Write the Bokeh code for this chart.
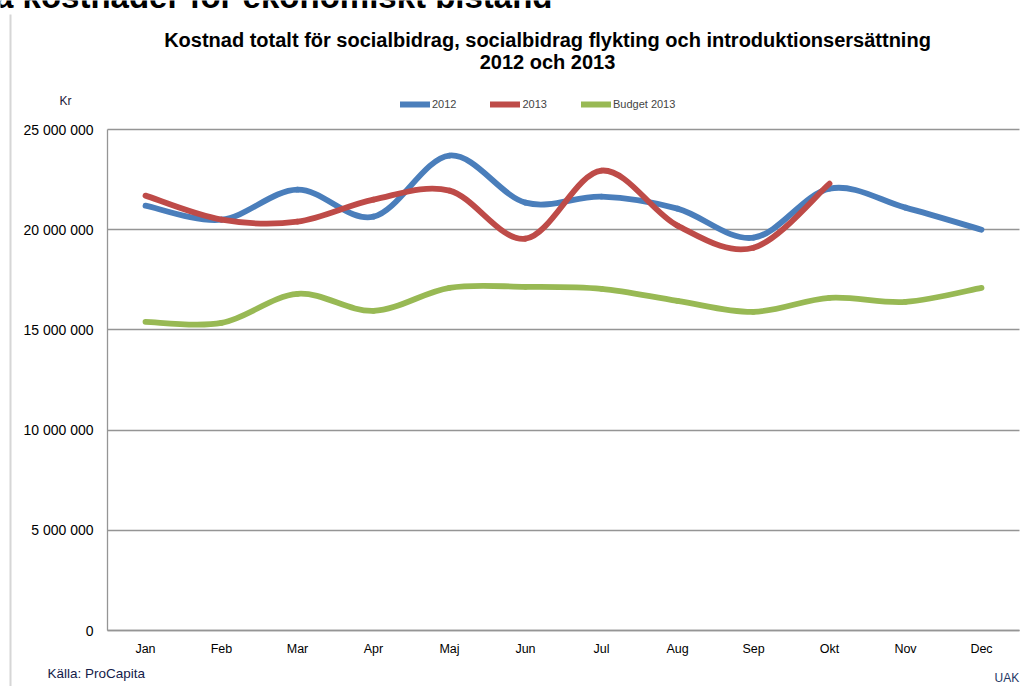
from bokeh.plotting import figure
from bokeh.models import (Range1d, FixedTicker, Label, Legend, LegendItem, ColumnDataSource,
                          BoxAnnotation)
from bokeh.embed import file_html
from bokeh.resources import INLINE

months = ["Jan", "Feb", "Mar", "Apr", "Maj", "Jun", "Jul", "Aug", "Sep", "Okt", "Nov", "Dec"]
v2012 = [21.2e6, 20.5e6, 22.0e6, 20.65e6, 23.7e6, 21.35e6, 21.65e6, 21.05e6, 19.6e6, 22.05e6, 21.1e6, 20.0e6]
v2013 = [21.7e6, 20.5e6, 20.4e6, 21.5e6, 21.95e6, 19.55e6, 22.95e6, 20.2e6, 19.1e6, 22.3e6]
budget2013 = [15.4e6, 15.35e6, 16.8e6, 15.95e6, 17.1e6, 17.15e6, 17.05e6, 16.45e6, 15.9e6, 16.6e6, 16.4e6, 17.1e6]
y_ticks = [0, 5e6, 10e6, 15e6, 20e6, 25e6]
y_tick_labels = ["0", "5 000 000", "10 000 000", "15 000 000", "20 000 000", "25 000 000"]
series_names = ["2012", "2013", "Budget 2013"]

heading = "Totala kostnader för ekonomiskt bistånd"
title_lines = ["Kostnad totalt för socialbidrag, socialbidrag flykting och introduktionsersättning",
               "2012 och 2013"]
unit_text = "Kr"
source_text = "Källa: ProCapita"
org_text = "UAK"

BLUE = "#4A7EBB"
RED = "#BE4B48"
GREEN = "#98B954"
GRID = "#959595"
FONT = "Liberation Sans"

W, H = 1020, 686
# pixel layout of the plot area on the canvas
PX_LEFT, PX_CAT = 107, 76.0          # left edge of plot area, width per month
PY_ZERO, PY_TOP = 630, 129           # pixel rows of 0 and 25 000 000
py_per_unit = (PY_ZERO - PY_TOP) / 25e6

p = figure(width=W, height=H, output_backend="svg", toolbar_location=None, title=None,
           x_range=Range1d(-PX_LEFT / PX_CAT, (W - PX_LEFT) / PX_CAT),
           y_range=Range1d(-(H - PY_ZERO) / py_per_unit, PY_ZERO / py_per_unit),
           min_border=0)
p.outline_line_color = None
p.background_fill_color = "white"
p.border_fill_color = "white"

xs = [i + 0.5 for i in range(12)]


def smooth_source(ys):
    n = len(ys)
    pts = list(zip(xs[:n], ys))
    d = dict(x0=[], y0=[], x1=[], y1=[], cx0=[], cy0=[], cx1=[], cy1=[])
    for i in range(n - 1):
        p0 = pts[i - 1] if i > 0 else pts[i]
        p1 = pts[i]
        p2 = pts[i + 1]
        p3 = pts[i + 2] if i + 2 < n else pts[i + 1]
        d["x0"].append(p1[0]); d["y0"].append(p1[1])
        d["x1"].append(p2[0]); d["y1"].append(p2[1])
        d["cx0"].append(p1[0] + (p2[0] - p0[0]) / 6); d["cy0"].append(p1[1] + (p2[1] - p0[1]) / 6)
        d["cx1"].append(p2[0] - (p3[0] - p1[0]) / 6); d["cy1"].append(p2[1] - (p3[1] - p1[1]) / 6)
    return ColumnDataSource(d)


# grid
p.xgrid.grid_line_color = None
p.ygrid.ticker = FixedTicker(ticks=y_ticks)
p.ygrid.grid_line_color = GRID
p.ygrid.grid_line_width = 1.3
p.ygrid.cross_bounds = (0, 12)

renderers = []
for ys, col in [(budget2013, GREEN), (v2012, BLUE), (v2013, RED)]:
    r = p.bezier(x0="x0", y0="y0", x1="x1", y1="y1", cx0="cx0", cy0="cy0", cx1="cx1", cy1="cy1",
                 source=smooth_source(ys), line_color=col, line_width=5.8, line_cap="round")
    renderers.append(r)

# axes, fixed inside the frame
xa, ya = p.xaxis[0], p.yaxis[0]
xa.fixed_location = 0
ya.fixed_location = 0
xa.bounds = (0, 12)
ya.bounds = (0, 25e6)
xa.ticker = FixedTicker(ticks=xs)
xa.major_label_overrides = {x: m for x, m in zip(xs, months)}
ya.ticker = FixedTicker(ticks=y_ticks)
ya.major_label_overrides = {t: s for t, s in zip(y_ticks, y_tick_labels)}
for ax in (xa, ya):
    ax.axis_line_color = GRID
    ax.axis_line_width = 1.3
    ax.major_tick_line_color = None
    ax.minor_tick_line_color = None
    ax.major_label_text_font = FONT
    ax.major_label_text_color = "#000000"
xa.major_label_text_font_size = "12.5px"
ya.major_label_text_font_size = "14px"
xa.major_label_standoff = 5
ya.major_label_standoff = 8

# legend
legend = Legend(items=[LegendItem(label=series_names[0], renderers=[renderers[1]]),
                       LegendItem(label=series_names[1], renderers=[renderers[2]]),
                       LegendItem(label=series_names[2], renderers=[renderers[0]])],
                orientation="horizontal", location=(400, H - 110),
                label_text_font=FONT, label_text_font_size="11px",
                glyph_width=30, glyph_height=10, label_standoff=2, spacing=34,
                padding=0, margin=0, border_line_color=None, background_fill_alpha=0)
p.add_layout(legend, "center")


# texts (screen units: canvas pixels, y measured from the bottom)
def lab(x, y_from_top, text, size, bold=False, align="left", color="#000000", baseline="middle"):
    p.add_layout(Label(x=x, y=H - y_from_top, x_units="screen", y_units="screen", text=text,
                       text_font=FONT, text_font_size=size, text_align=align,
                       text_baseline=baseline, text_color=color,
                       text_font_style="bold" if bold else "normal"))


lab(552, -4, heading, "33px", bold=True, align="right", baseline="alphabetic")
lab(547, 39, title_lines[0], "20px", bold=True, align="center")
lab(547, 61, title_lines[1], "20px", bold=True, align="center")
lab(59, 100, unit_text, "12px", color="#1c1838")
lab(47, 673, source_text, "13.5px", color="#14204a")
lab(994, 677, org_text, "12px", color="#1F3864")

# slide frame edge at the left
p.add_layout(BoxAnnotation(left=9, right=11, top=H - 14, bottom=-5,
                           left_units="screen", right_units="screen",
                           top_units="screen", bottom_units="screen",
                           fill_color="#D6D6D6", fill_alpha=1, line_color=None))

open("out.html", "w").write(file_html(p, INLINE))
